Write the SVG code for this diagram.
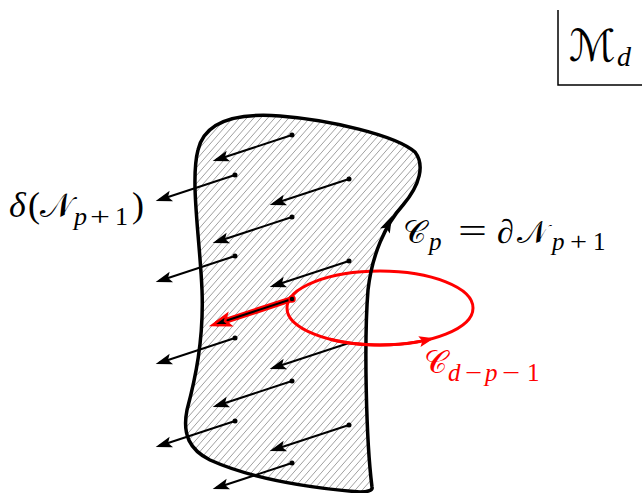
<svg xmlns="http://www.w3.org/2000/svg" width="642" height="493" viewBox="0 0 642 493">
<style>
.m{font-family:"Liberation Serif","DejaVu Serif",serif;}
.i{font-style:italic;}
.s{font-family:"DejaVu Serif","DejaVu Sans","Noto Sans",serif;}
.arr line{stroke:#000;stroke-width:2;marker-end:url(#ah);}
.dot{fill:#000;}
.red{fill:#f00;}
</style>
<defs>
<pattern id="hatch" patternUnits="userSpaceOnUse" width="7" height="8">
<path d="M-1,1.14 L1,-1.14 M0,8 L7,0 M6,9.14 L8,6.86" stroke="#808080" stroke-width="0.75"/>
</pattern>
<marker id="ah" markerUnits="userSpaceOnUse" markerWidth="18" markerHeight="12" viewBox="0 -6 18 12" refX="13" refY="0" orient="auto" overflow="visible">
<path d="M0,-5.5 L16.5,0 L0,5.5 L3.5,0 Z" fill="#000"/>
</marker>
<marker id="ahr" markerUnits="userSpaceOnUse" markerWidth="18" markerHeight="12" viewBox="0 -6 18 12" refX="13" refY="0" orient="auto" overflow="visible">
<path d="M0,-5.5 L16.5,0 L0,5.5 L3.5,0 Z" fill="#000" stroke="#f00" stroke-width="2.5" stroke-linejoin="miter"/>
</marker>
<path id="shape" d="M372,487 C366,440 364,340 368,290 C372,255 385,225 403,205 C420,185 425,165 415,152 C395,135 330,120 280,116 C240,113 205,120 198,150 C190,180 200,240 202,290 C204,340 195,380 187,410 C182,435 190,450 210,460 C250,478 300,487 360,492 C368,492 373,490 372,487 Z"/>
</defs>
<rect width="642" height="493" fill="#fff"/>

<g id="frame">
<path d="M558,10 L558,85 L642,85" fill="none" stroke="#000" stroke-width="1.5"/>
<text class="s" x="569" y="61" font-size="44">ℳ</text>
<text class="m i" x="617" y="66" font-size="28">d</text>
</g>

<g id="region">
<use href="#shape" fill="#fff"/>
<use href="#shape" fill="url(#hatch)"/>
</g>

<g id="connectors">
<g class="arr">
<line x1="292" y1="135" x2="216" y2="160"/>
<line x1="235" y1="175" x2="159" y2="200"/>
<line x1="349" y1="179" x2="273" y2="204"/>
<line x1="292" y1="217" x2="216" y2="242"/>
<line x1="235" y1="256" x2="159" y2="281"/>
<line x1="349" y1="261" x2="273" y2="286"/>
<line x1="235" y1="338" x2="159" y2="363"/>
<line x1="349" y1="343" x2="273" y2="368"/>
<line x1="292" y1="381" x2="216" y2="406"/>
<line x1="235" y1="421" x2="159" y2="446"/>
<line x1="349" y1="425" x2="273" y2="450"/>
<line x1="292" y1="463" x2="216" y2="488"/>
</g>
<circle class="dot" cx="292" cy="135" r="2.5"/>
<circle class="dot" cx="235" cy="175" r="2.5"/>
<circle class="dot" cx="349" cy="179" r="2.5"/>
<circle class="dot" cx="292" cy="217" r="2.5"/>
<circle class="dot" cx="235" cy="256" r="2.5"/>
<circle class="dot" cx="349" cy="261" r="2.5"/>
<circle class="dot" cx="235" cy="338" r="2.5"/>
<circle class="dot" cx="292" cy="381" r="2.5"/>
<circle class="dot" cx="235" cy="421" r="2.5"/>
<circle class="dot" cx="349" cy="425" r="2.5"/>
<circle class="dot" cx="292" cy="463" r="2.5"/>
</g>

<g id="loop">
<ellipse cx="380" cy="308" rx="93" ry="37" fill="none" stroke="#f00" stroke-width="3"/>
</g>

<g id="boundary">
<use href="#shape" fill="none" stroke="#000" stroke-width="3.5" stroke-linejoin="round"/>
<path d="M392,216 L380,228.5 L386,227.8 L389.8,233.5 Z" fill="#000"/>
</g>

<g id="loop-front">
<path d="M330,339.2 A93,37 0 0 0 420,341.4" fill="none" stroke="#f00" stroke-width="3"/>
<path d="M434,338.2 L418.3,336.2 L422.3,340.9 L420.5,347 Z" fill="#f00"/>
</g>

<g id="red-arrow">
<line x1="292" y1="299" x2="216" y2="324" stroke="#f00" stroke-width="6"/>
<line x1="292" y1="299" x2="216" y2="324" stroke="#000" stroke-width="2" marker-end="url(#ahr)"/>
<circle cx="292" cy="299" r="3" fill="#000" stroke="#f00" stroke-width="1.5"/>
</g>

<g id="labels">
<text class="m i" x="9" y="217" font-size="36">δ</text>
<text class="m" x="28" y="217" font-size="36">(</text>
<text class="s" x="40" y="217" font-size="34">𝒩</text>
<text class="m i" x="74" y="225" font-size="26">p</text>
<text class="m" x="90" y="225" font-size="26" textLength="20" lengthAdjust="spacingAndGlyphs">+</text>
<text class="m" x="115" y="225" font-size="26">1</text>
<text class="m" x="132" y="217" font-size="36">)</text>

<text class="s" x="403" y="243" font-size="32">𝒞</text>
<text class="m i" x="429" y="250" font-size="25">p</text>
<text class="m" x="458" y="243" font-size="36" textLength="29" lengthAdjust="spacingAndGlyphs">=</text>
<text class="m i" x="497" y="243" font-size="34">∂</text>
<text class="s" x="517" y="243" font-size="32">𝒩</text>
<text class="m i" x="552" y="250" font-size="25">p</text>
<text class="m" x="570" y="250" font-size="25" textLength="17" lengthAdjust="spacingAndGlyphs">+</text>
<text class="m" x="593" y="250" font-size="25">1</text>

<g class="red">
<text class="s" x="424" y="373" font-size="32">𝒞</text>
<text class="m i" x="448" y="381" font-size="25">d</text>
<text class="m" x="465" y="381" font-size="25" textLength="17" lengthAdjust="spacingAndGlyphs">−</text>
<text class="m i" x="485" y="381" font-size="25">p</text>
<text class="m" x="502" y="381" font-size="25" textLength="18" lengthAdjust="spacingAndGlyphs">−</text>
<text class="m" x="527" y="381" font-size="25">1</text>
</g>
</g>
</svg>
